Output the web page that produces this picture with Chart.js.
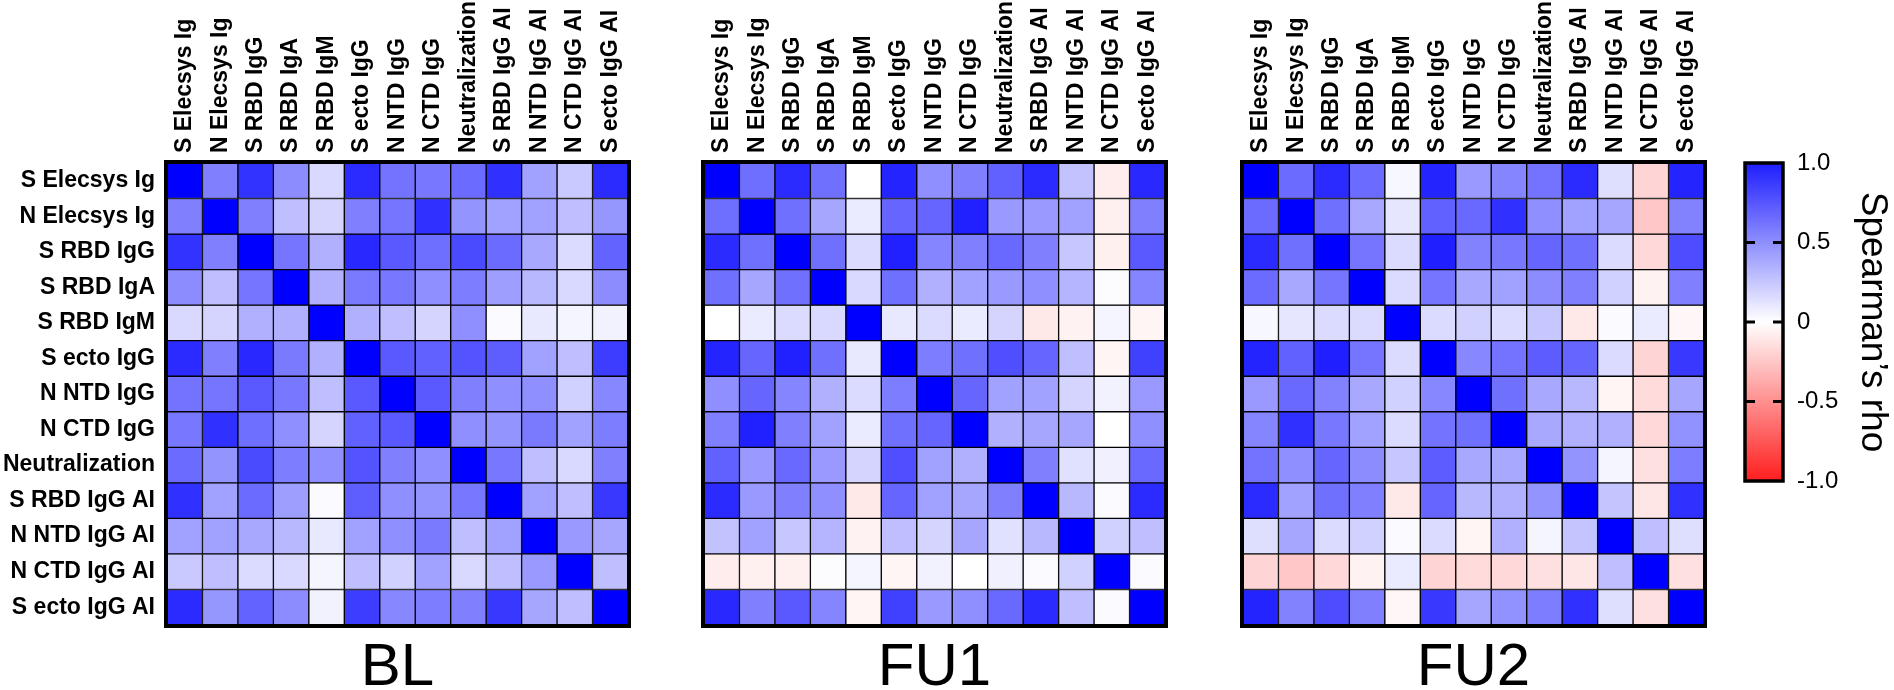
<!DOCTYPE html>
<html>
<head>
<meta charset="utf-8">
<script src="https://cdn.jsdelivr.net/npm/chart.js@4.4.1/dist/chart.umd.min.js"></script>
<style>
  html, body { margin: 0; padding: 0; background: #fff; overflow: hidden; }
  body { width: 1894px; height: 690px; position: relative; }
  canvas { position: absolute; top: 0; }
</style>
</head>
<body>
<canvas id="blChart" width="640" height="710" style="left:0px"></canvas>
<canvas id="fu1Chart" width="640" height="710" style="left:537px"></canvas>
<canvas id="fu2Chart" width="640" height="710" style="left:1076px"></canvas>
<canvas id="scaleChart" width="159" height="690" style="left:1735px"></canvas>
<script>
const markers = ['S Elecsys Ig', 'N Elecsys Ig', 'S RBD IgG', 'S RBD IgA', 'S RBD IgM', 'S ecto IgG',
  'N NTD IgG', 'N CTD IgG', 'Neutralization', 'S RBD IgG AI', 'N NTD IgG AI', 'N CTD IgG AI', 'S ecto IgG AI'];

// lower triangles of the Spearman matrices (row i, columns 0..i-1), diagonal is 1
const blLower = [
  [],
  [0.50],
  [0.80, 0.50],
  [0.45, 0.25, 0.54],
  [0.15, 0.17, 0.31, 0.31],
  [0.83, 0.50, 0.84, 0.52, 0.31],
  [0.55, 0.54, 0.65, 0.53, 0.25, 0.65],
  [0.53, 0.81, 0.57, 0.44, 0.17, 0.62, 0.65],
  [0.58, 0.42, 0.71, 0.51, 0.44, 0.67, 0.50, 0.44],
  [0.81, 0.37, 0.58, 0.38, 0.02, 0.63, 0.44, 0.42, 0.53],
  [0.37, 0.37, 0.34, 0.28, 0.09, 0.37, 0.44, 0.52, 0.25, 0.37],
  [0.21, 0.25, 0.14, 0.15, 0.04, 0.25, 0.18, 0.37, 0.15, 0.25, 0.40],
  [0.83, 0.41, 0.61, 0.45, 0.05, 0.76, 0.47, 0.51, 0.50, 0.78, 0.35, 0.25]
];
const fu1Lower = [
  [],
  [0.57],
  [0.83, 0.56],
  [0.56, 0.35, 0.56],
  [0.00, 0.08, 0.14, 0.15],
  [0.86, 0.60, 0.87, 0.56, 0.09],
  [0.44, 0.60, 0.48, 0.31, 0.14, 0.51],
  [0.50, 0.87, 0.50, 0.37, 0.08, 0.56, 0.60],
  [0.62, 0.40, 0.59, 0.40, 0.17, 0.69, 0.37, 0.31],
  [0.83, 0.40, 0.50, 0.44, -0.09, 0.60, 0.37, 0.35, 0.50],
  [0.24, 0.37, 0.22, 0.29, -0.05, 0.25, 0.17, 0.35, 0.12, 0.28],
  [-0.07, -0.06, -0.06, 0.01, 0.04, -0.04, 0.05, 0.00, 0.06, 0.02, 0.18],
  [0.84, 0.50, 0.65, 0.48, -0.04, 0.75, 0.40, 0.44, 0.59, 0.83, 0.25, 0.02]
];
const fu2Lower = [
  [],
  [0.58],
  [0.83, 0.56],
  [0.58, 0.34, 0.54],
  [0.03, 0.10, 0.14, 0.14],
  [0.86, 0.62, 0.88, 0.54, 0.14],
  [0.40, 0.59, 0.49, 0.34, 0.18, 0.47],
  [0.48, 0.81, 0.53, 0.37, 0.14, 0.55, 0.56],
  [0.55, 0.44, 0.60, 0.45, 0.22, 0.64, 0.34, 0.34],
  [0.83, 0.37, 0.56, 0.50, -0.09, 0.60, 0.28, 0.31, 0.42],
  [0.13, 0.35, 0.14, 0.18, 0.02, 0.14, -0.04, 0.31, 0.04, 0.23],
  [-0.17, -0.22, -0.15, -0.05, 0.08, -0.17, -0.14, -0.15, -0.12, -0.10, 0.25],
  [0.86, 0.49, 0.70, 0.50, -0.03, 0.78, 0.35, 0.43, 0.51, 0.81, 0.13, -0.12]
];
const scaleTicks = [-1, -0.5, 0, 0.5, 1];

Chart.defaults.font.family = "'Liberation Sans', Arial, sans-serif";
Chart.defaults.color = '#000';

const labelSize = 23;

function fullMatrix(lower) {
  return markers.map((_, i) => markers.map((_, j) => i === j ? 1 : (i > j ? lower[i][j] : lower[j][i])));
}

function rhoColor(v) {
  const k = Math.round(255 * (1 - Math.min(1, Math.abs(v))));
  return v >= 0 ? `rgb(${k},${k},255)` : `rgb(255,${k},${k})`;
}

const framePlugin = {
  id: 'frame',
  afterDatasetsDraw(chart) {
    const { ctx, chartArea: a } = chart;
    ctx.save();
    ctx.strokeStyle = '#000';
    ctx.lineWidth = 4;
    ctx.strokeRect(a.left - 1, a.top - 1, a.right - a.left + 2, a.bottom - a.top + 2);
    ctx.restore();
  }
};

function createHeatmap(id, lower, title, showRows) {
  const rho = fullMatrix(lower);
  return new Chart(document.getElementById(id), {
    type: 'bar',
    data: {
      labels: markers,
      datasets: rho.map((row, r) => ({
        label: markers[r],
        data: row.map(() => [r, r + 1]),
        backgroundColor: row.map(rhoColor),
        borderColor: '#000',
        borderWidth: 1,
        borderSkipped: false,
        grouped: false,
        barPercentage: 1,
        categoryPercentage: 1
      }))
    },
    options: {
      responsive: false,
      animation: false,
      layout: { padding: { left: 0, top: 0, right: 12, bottom: 12 } },
      plugins: {
        legend: { display: false },
        tooltip: { enabled: false },
        title: {
          display: true, text: title, position: 'bottom', fullSize: false, color: '#000',
          font: { size: 60, weight: 'normal', lineHeight: 1 },
          padding: { top: 13, bottom: 0 }
        }
      },
      scales: {
        x: {
          position: 'top',
          grid: { display: false, drawTicks: false },
          border: { display: false },
          // rotated top labels sit one line height left of the tick, push them back
          ticks: { color: '#000', font: { size: labelSize, weight: 'bold' }, minRotation: 90, maxRotation: 90,
            autoSkip: false, padding: 10, labelOffset: labelSize * 1.2 },
          afterFit: s => { s.height = 163; }
        },
        y: {
          min: 0, max: 13, reverse: true,
          grid: { display: false, drawTicks: false },
          border: { display: false },
          ticks: { display: showRows, color: '#000', font: { size: labelSize, weight: 'bold' }, padding: 12,
            callback: v => markers[Math.floor(v)] },
          afterBuildTicks: s => { s.ticks = markers.map((_, i) => ({ value: i + 0.5 })); },
          afterFit: s => { s.width = 167; }
        }
      }
    },
    plugins: [framePlugin]
  });
}

createHeatmap('blChart', blLower, 'BL', true);
createHeatmap('fu1Chart', fu1Lower, 'FU1', false);
createHeatmap('fu2Chart', fu2Lower, 'FU2', false);

const colorbarPlugin = {
  id: 'colorbarFrame',
  afterDatasetsDraw(chart) {
    const { ctx, chartArea: a, scales: { y } } = chart;
    ctx.save();
    ctx.strokeStyle = '#000';
    ctx.lineWidth = 3;
    scaleTicks.filter(v => Math.abs(v) < 1).forEach(v => {
      const py = y.getPixelForValue(v);
      ctx.beginPath();
      ctx.moveTo(a.left, py); ctx.lineTo(a.left + 10, py);
      ctx.moveTo(a.right - 10, py); ctx.lineTo(a.right, py);
      ctx.stroke();
    });
    ctx.lineWidth = 3.5;
    ctx.strokeRect(a.left, a.top, a.right - a.left, a.bottom - a.top);
    ctx.restore();
  }
};

new Chart(document.getElementById('scaleChart'), {
  type: 'bar',
  data: {
    labels: ['rho'],
    datasets: [{
      data: [[-1, 1]],
      borderWidth: 0,
      barPercentage: 1,
      categoryPercentage: 1,
      backgroundColor: c => {
        const a = c.chart.chartArea;
        if (!a) return 'transparent';
        const g = c.chart.ctx.createLinearGradient(0, a.bottom, 0, a.top);
        g.addColorStop(0, 'rgb(255,30,30)');
        g.addColorStop(0.5, '#ffffff');
        g.addColorStop(1, 'rgb(30,30,255)');
        return g;
      }
    }]
  },
  options: {
    responsive: false,
    animation: false,
    layout: { padding: { left: 10, top: 163, right: 0, bottom: 209 } },
    plugins: { legend: { display: false }, tooltip: { enabled: false } },
    scales: {
      x: { display: false },
      y: {
        position: 'right', min: -1, max: 1,
        grid: { display: false, drawTicks: false },
        border: { display: false },
        ticks: { color: '#000', font: { size: 24 }, padding: 14,
          callback: v => v === 0 ? '0' : v.toFixed(1) },
        afterBuildTicks: s => { s.ticks = scaleTicks.map(v => ({ value: v })); },
        title: { display: true, text: 'Spearman\u2019s rho', color: '#000', font: { size: 37 }, padding: 0 },
        afterFit: s => { s.width = 111; }
      }
    }
  },
  plugins: [colorbarPlugin]
});
</script>
</body>
</html>
